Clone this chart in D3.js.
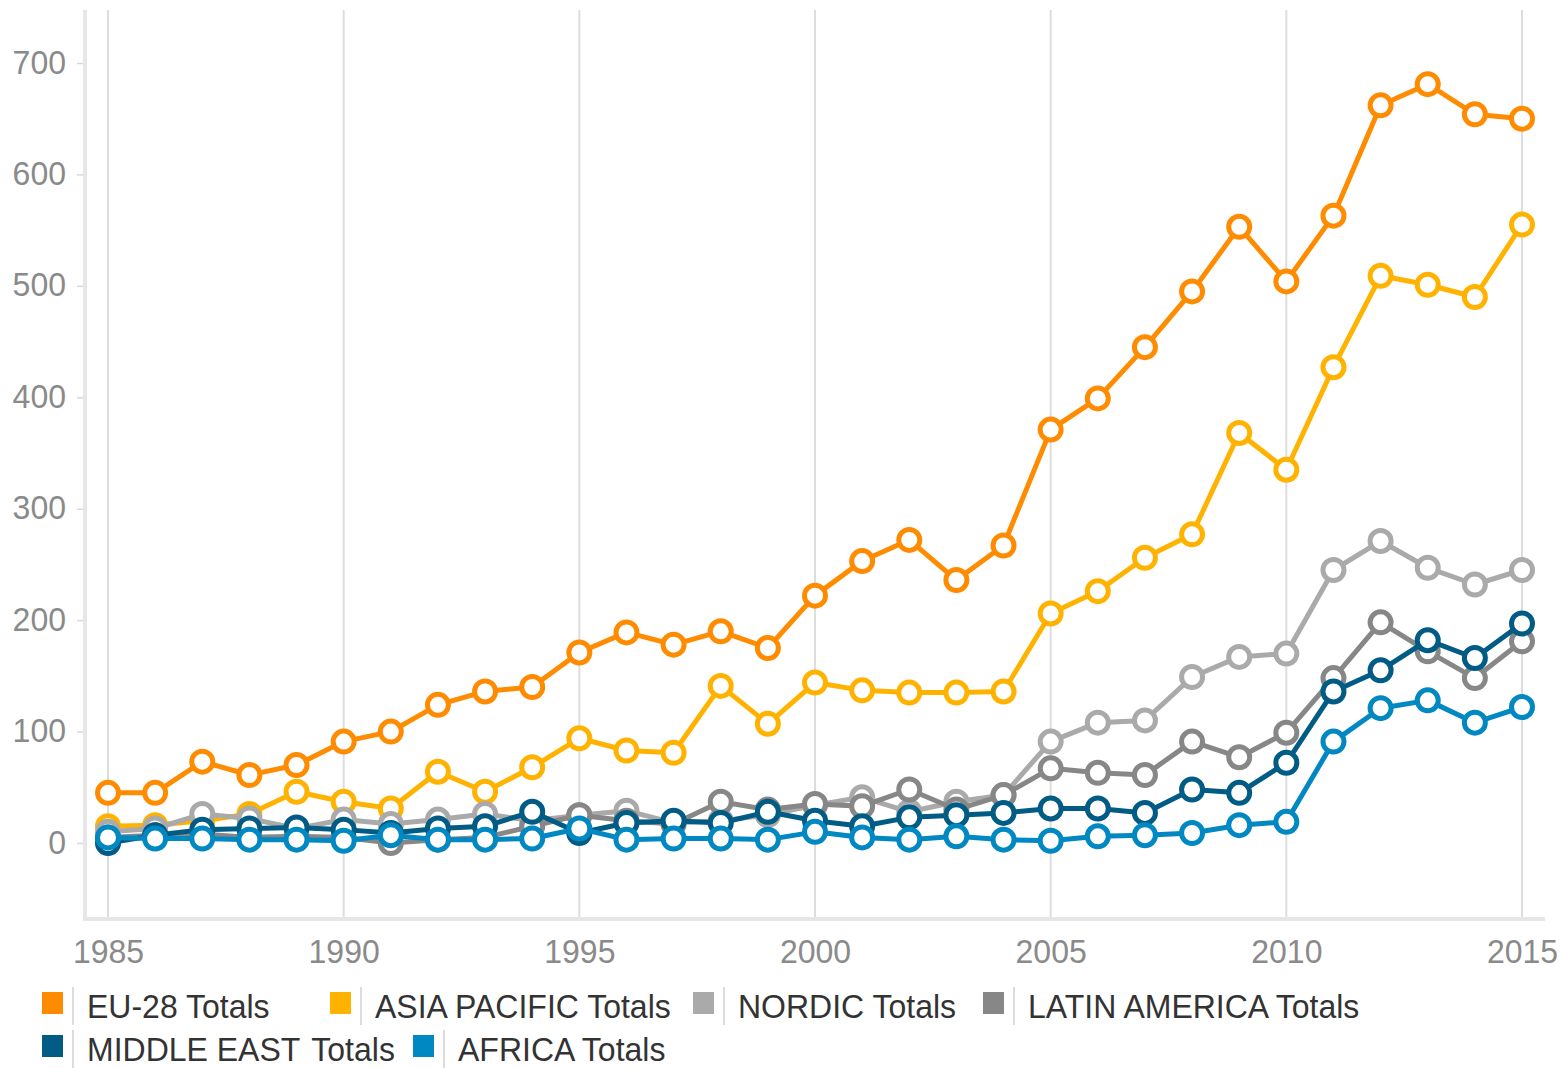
<!DOCTYPE html>
<html>
<head>
<meta charset="utf-8">
<script src="https://cdn.jsdelivr.net/npm/d3@7"></script>
<style>
  html, body { margin: 0; padding: 0; background: #fff; }
  svg { display: block; font-family: "Liberation Sans", Arial, sans-serif; }
</style>
</head>
<body>
<svg id="chart" width="1562" height="1068"></svg>
<script>
// ---- Data ----
const years = d3.range(1985, 2016);
const seriesNames = ["EU-28 Totals", "ASIA PACIFIC Totals", "NORDIC Totals", "LATIN AMERICA Totals", "MIDDLE EAST \u200ATotals", "AFRICA Totals"];
const seriesColors = ["#FF8C00", "#FFB300", "#AAAAAA", "#878787", "#005B85", "#0088C2"];

const eu28 = [45, 45, 73, 61, 70, 91, 100, 124, 136, 140, 171, 189, 178, 190, 175, 222, 253, 272, 236, 267, 371, 399, 445, 495, 553, 504, 563, 662, 681, 654, 650];
const asiaPacific = [15, 16, 20, 26, 46, 37, 31, 64, 46, 68, 94, 83, 81, 141, 107, 144, 137, 135, 135, 136, 206, 226, 256, 277, 368, 335, 427, 509, 501, 490, 555];
const nordic = [10, 13, 26, 22, 13, 21, 17, 21, 26, 20, 25, 29, 18, 20, 25, 34, 41, 28, 37, 43, 91, 108, 110, 149, 167, 170, 245, 271, 247, 232, 245];
const latinAmerica = [5, 7, 8, 5, 6, 5, 0, 3, 5, 15, 25, 20, 17, 37, 30, 35, 33, 48, 30, 43, 67, 63, 61, 91, 77, 99, 148, 198, 172, 148, 181];
const middleEast = [0, 7, 12, 13, 14, 12, 9, 13, 15, 28, 9, 18, 20, 18, 28, 20, 15, 23, 25, 27, 31, 31, 27, 48, 45, 72, 136, 155, 182, 166, 197];
const africa = [5, 4, 4, 3, 3, 2, 7, 3, 3, 4, 13, 3, 4, 4, 3, 10, 5, 3, 6, 3, 2, 6, 7, 9, 16, 19, 91, 121, 128, 108, 122];

const xTicks = [1985, 1990, 1995, 2000, 2005, 2010, 2015];
const yTicks = [0, 100, 200, 300, 400, 500, 600, 700];

const allSeries = [eu28, asiaPacific, nordic, latinAmerica, middleEast, africa];

// ---- Layout ----
const svg = d3.select("#chart");
const plotLeft = 85, plotRight = 1545, plotTop = 10, plotBottom = 919;
const fontSize = 32, stretch = 1.06;

const x = d3.scaleLinear().domain([1985, 2015]).range([108, 1522]);
const y = d3.scaleLinear().domain([0, 700]).range([843, 63]);

// vertical grid lines
svg.append("g").selectAll("line").data(xTicks).join("line")
  .attr("x1", d => x(d)).attr("x2", d => x(d))
  .attr("y1", plotTop).attr("y2", plotBottom)
  .attr("stroke", "#dddddd").attr("stroke-width", 2);

// left axis band
svg.append("line")
  .attr("x1", plotLeft).attr("x2", plotLeft)
  .attr("y1", plotTop).attr("y2", plotBottom + 2)
  .attr("stroke", "#e6e6e6").attr("stroke-width", 4);
// bottom axis band
svg.append("line")
  .attr("x1", plotLeft - 2).attr("x2", plotRight)
  .attr("y1", plotBottom).attr("y2", plotBottom)
  .attr("stroke", "#e6e6e6").attr("stroke-width", 4);

// y axis ticks + labels
const yAxis = d3.axisLeft(y).tickValues(yTicks).tickSize(6).tickPadding(12).tickFormat(d3.format("d"));
const yg = svg.append("g").attr("transform", `translate(${plotLeft - 2},0)`).call(yAxis);
yg.select(".domain").remove();
yg.selectAll(".tick line").attr("stroke", "#d8d8d8").attr("stroke-width", 1.5);
yg.selectAll(".tick text")
  .attr("fill", "#8a8a8a").attr("font-size", fontSize)
  .attr("x", null).attr("dy", null)
  .attr("transform", `translate(-17,10) scale(1,${stretch})`)
  .style("font-family", "'Liberation Sans', Arial, sans-serif");

// x axis labels
const xAxis = d3.axisBottom(x).tickValues(xTicks).tickSize(0).tickPadding(0).tickFormat(d3.format("d"));
const xg = svg.append("g").attr("transform", `translate(0,${plotBottom})`).call(xAxis);
xg.select(".domain").remove();
xg.selectAll(".tick text")
  .attr("fill", "#8a8a8a").attr("font-size", fontSize)
  .attr("dy", null).attr("y", null)
  .attr("transform", `translate(0,44) scale(1,${stretch})`)
  .style("font-family", "'Liberation Sans', Arial, sans-serif");

// lines + markers
const line = d3.line().x((d, i) => x(years[i])).y(d => y(d));
allSeries.forEach((vals, si) => {
  const g = svg.append("g");
  g.append("path").datum(vals)
    .attr("d", line).attr("fill", "none")
    .attr("stroke", seriesColors[si]).attr("stroke-width", 5)
    .attr("stroke-linejoin", "round");
  g.selectAll("circle").data(vals).join("circle")
    .attr("cx", (d, i) => x(years[i])).attr("cy", d => y(d))
    .attr("r", 10.5).attr("fill", "#fff")
    .attr("stroke", seriesColors[si]).attr("stroke-width", 5);
});

// legend
const legendPos = [[42, 1004], [330, 1004], [693, 1004], [983, 1004], [42, 1047], [413, 1047]];
const lg = svg.append("g").selectAll("g").data(seriesNames).join("g")
  .attr("transform", (d, i) => `translate(${legendPos[i][0]},${legendPos[i][1]})`);
lg.append("rect").attr("x", 0).attr("y", -12).attr("width", 21).attr("height", 22)
  .attr("fill", (d, i) => seriesColors[i]);
lg.append("line").attr("x1", 31).attr("x2", 31).attr("y1", -17).attr("y2", 21)
  .attr("stroke", "#d0d0d0").attr("stroke-width", 1.5);
lg.append("text")
  .attr("transform", `translate(45,14) scale(1,${stretch})`)
  .attr("font-size", fontSize).attr("fill", "#333")
  .attr("xml:space", "preserve").style("white-space", "pre")
  .text(d => d);
</script>
</body>
</html>
